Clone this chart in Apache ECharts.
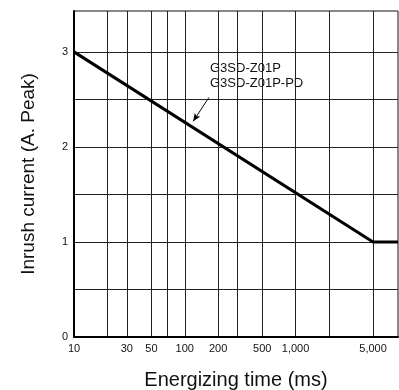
<!DOCTYPE html>
<html>
<head>
<meta charset="utf-8">
<script src="https://cdn.jsdelivr.net/npm/echarts@6/dist/echarts.min.js"></script>
<style>
  html, body { margin: 0; padding: 0; background: #fff; }
  #chart { width: 399px; height: 390px; }
</style>
</head>
<body>
<div id="chart"></div>
<script>
// energizing time (ms) vs inrush current (A peak)
const timeValues = [10, 5000, 8400];
const currentValues = [3, 1, 1];

const xGridValues = [10, 20, 30, 50, 70, 100, 200, 300, 500, 1000, 2000, 5000];
const xLabelValues = [10, 30, 50, 100, 200, 500, 1000, 5000];
const yGridValues = [0, 0.5, 1, 1.5, 2, 2.5, 3];
const yLabelValues = [0, 1, 2, 3];

const seriesName = ["G3SD-Z01P", "G3SD-Z01P-PD"];

const chart = echarts.init(document.getElementById("chart"));
const font = "Liberation Sans, Arial, sans-serif";

const option = {
  animation: false,
  grid: {
    left: 74,
    top: 11,
    right: 1,
    bottom: 53,
    outerBoundsMode: "none",
    containLabel: false,
    show: true,
    borderColor: "#111",
    borderWidth: 1
  },
  xAxis: {
    type: "log",
    min: 10,
    max: 8400,
    name: "Energizing time (ms)",
    nameLocation: "middle",
    nameGap: 33,
    nameTextStyle: { color: "#111", fontSize: 20, fontFamily: font },
    axisLine: { show: true, lineStyle: { color: "#000", width: 2 } },
    axisTick: { show: false, customValues: xGridValues },
    axisLabel: {
      customValues: xLabelValues,
      color: "#111",
      fontSize: 11,
      fontFamily: font,
      margin: 6,
      formatter: (v) => Math.round(v).toLocaleString("en-US")
    },
    splitLine: { show: true, lineStyle: { color: "#222", width: 1 } },
    minorTick: { show: false },
    minorSplitLine: { show: false }
  },
  yAxis: {
    type: "value",
    min: 0,
    max: 3.43,
    name: "Inrush current (A. Peak)",
    nameLocation: "middle",
    nameGap: 36,
    nameTextStyle: { color: "#111", fontSize: 19, fontFamily: font },
    axisLine: { show: true, lineStyle: { color: "#000", width: 2 } },
    axisTick: { show: false, customValues: yGridValues },
    axisLabel: {
      customValues: yLabelValues,
      color: "#111",
      fontSize: 11,
      fontFamily: font,
      margin: 6
    },
    splitLine: { show: true, lineStyle: { color: "#222", width: 1 } }
  },
  series: [{
    type: "line",
    data: timeValues.map((t, i) => [t, currentValues[i]]),
    showSymbol: false,
    lineStyle: { color: "#000", width: 3 },
    z: 5,
    markLine: {
      silent: true,
      symbol: ["none", "arrow"],
      symbolSize: [5, 8],
      lineStyle: { color: "#000", width: 1, type: "solid" },
      label: { show: false },
      data: [[{ coord: [165, 2.52] }, { coord: [119, 2.27] }]]
    }
  }],
  graphic: [{
    type: "text",
    left: 210,
    top: 61,
    style: {
      text: seriesName.join("\n"),
      fill: "#111",
      font: "13px " + font,
      lineHeight: 15
    }
  }]
};

chart.setOption(option);
</script>
</body>
</html>
